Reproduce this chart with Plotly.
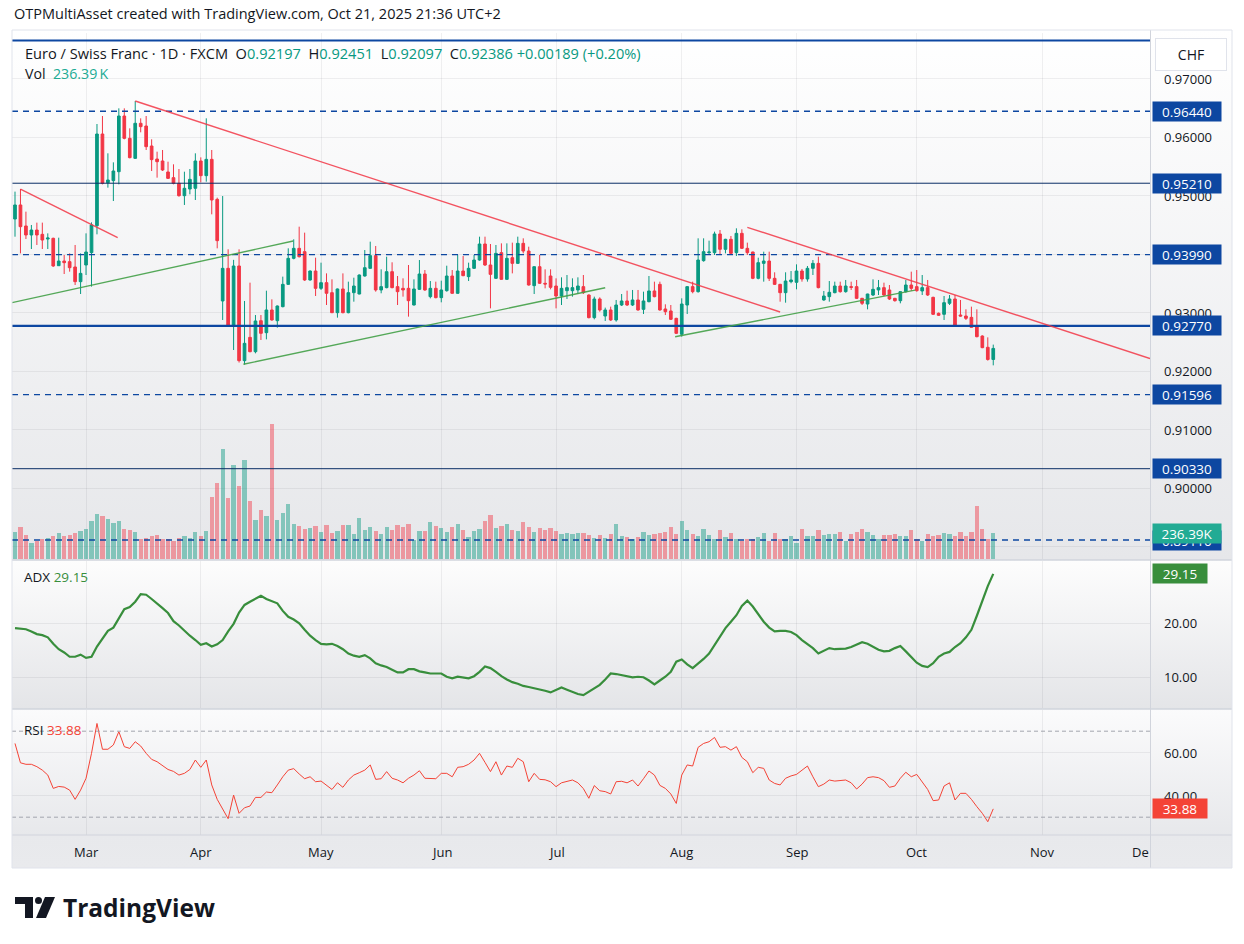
import base64
import pandas as pd
import plotly.graph_objects as go

# ------------------------------------------------------------------ data
dates = pd.bdate_range("2025-02-12", "2025-10-21")

opens = [0.94598, 0.94838, 0.94479, 0.94325, 0.94410, 0.94336, 0.94256, 0.94268, 0.93800, 0.93880,
         0.93869, 0.93778, 0.93527, 0.93812, 0.94023, 0.94484, 0.96051, 0.95219, 0.95254, 0.95407,
         0.96359, 0.95977, 0.95635, 0.96234, 0.96188, 0.95846, 0.95624, 0.95590, 0.95402, 0.95305,
         0.95208, 0.94997, 0.95111, 0.95123, 0.95590, 0.95339, 0.95618, 0.94934, 0.93197, 0.93755,
         0.92786, 0.93795, 0.92177, 0.92575, 0.92330, 0.92860, 0.92655, 0.93043, 0.92860, 0.93100,
         0.93481, 0.93926, 0.94097, 0.94040, 0.93556, 0.93709, 0.93413, 0.93510, 0.93339, 0.92997,
         0.93402, 0.92997, 0.93339, 0.93316, 0.93624, 0.93755, 0.93972, 0.93385, 0.93425, 0.93698,
         0.93442, 0.93413, 0.93413, 0.93128, 0.93396, 0.93658, 0.93271, 0.93413, 0.93254, 0.93373,
         0.93624, 0.93328, 0.93709, 0.93613, 0.93755, 0.93897, 0.94171, 0.93812, 0.93584, 0.94023,
         0.93567, 0.93937, 0.93840, 0.94182, 0.94051, 0.93459, 0.93783, 0.93499, 0.93624, 0.93453,
         0.93282, 0.93373, 0.93373, 0.93385, 0.93442, 0.93299, 0.92912, 0.93231, 0.92940, 0.93043,
         0.92872, 0.93128, 0.93197, 0.93128, 0.93214, 0.93054, 0.93185, 0.93368, 0.93481, 0.93060,
         0.93026, 0.92900, 0.92627, 0.93128, 0.93442, 0.93356, 0.93886, 0.94023, 0.94023, 0.94342,
         0.94080, 0.94251, 0.94023, 0.94353, 0.94097, 0.94034, 0.93584, 0.93840, 0.93880, 0.93584,
         0.93481, 0.93339, 0.93527, 0.93516, 0.93709, 0.93573, 0.93755, 0.93840, 0.93214, 0.93271,
         0.93339, 0.93453, 0.93356, 0.93442, 0.93442, 0.93242, 0.93145, 0.93299, 0.93385, 0.93425,
         0.93385, 0.93242, 0.93202, 0.93356, 0.93470, 0.93442, 0.93368, 0.93425, 0.93259, 0.92986,
         0.92969, 0.93157, 0.93231, 0.92957, 0.92940, 0.92917, 0.92758, 0.92598, 0.92405, 0.92197]

highs = [0.95066, 0.95111, 0.94724, 0.94496, 0.94536, 0.94536, 0.94353, 0.94279, 0.94279, 0.93983,
         0.94011, 0.94154, 0.94011, 0.94353, 0.94541, 0.96222, 0.96359, 0.95721, 0.95567, 0.96490,
         0.96490, 0.96148, 0.96615, 0.96319, 0.96359, 0.95960, 0.95749, 0.95778, 0.95578, 0.95533,
         0.95453, 0.95407, 0.95453, 0.95721, 0.95652, 0.96319, 0.95778, 0.94963, 0.94991, 0.94080,
         0.93900, 0.94080, 0.93197, 0.93510, 0.92957, 0.92957, 0.93373, 0.93225, 0.93120, 0.93613,
         0.94097, 0.94251, 0.94467, 0.94365, 0.93720, 0.93937, 0.93852, 0.93669, 0.93567, 0.93410,
         0.93669, 0.93527, 0.93595, 0.93650, 0.94068, 0.94211, 0.94137, 0.93738, 0.93954, 0.93858,
         0.93624, 0.93584, 0.93812, 0.93567, 0.93897, 0.93726, 0.93538, 0.93527, 0.93544, 0.93800,
         0.93726, 0.93983, 0.93966, 0.93852, 0.93983, 0.94296, 0.94296, 0.94171, 0.94154, 0.94182,
         0.94182, 0.94194, 0.94296, 0.94268, 0.94125, 0.93790, 0.93983, 0.93738, 0.93738, 0.93584,
         0.93601, 0.93641, 0.93584, 0.93601, 0.93641, 0.93310, 0.93271, 0.93259, 0.93083, 0.93100,
         0.93214, 0.93316, 0.93373, 0.93385, 0.93385, 0.93356, 0.93624, 0.93527, 0.93527, 0.93140,
         0.93128, 0.92910, 0.93242, 0.93450, 0.93527, 0.94268, 0.94268, 0.94228, 0.94382, 0.94410,
         0.94260, 0.94308, 0.94439, 0.94422, 0.94194, 0.94040, 0.93937, 0.94040, 0.94040, 0.93687,
         0.93490, 0.93687, 0.93709, 0.93823, 0.93744, 0.93795, 0.93897, 0.93954, 0.93368, 0.93538,
         0.93527, 0.93527, 0.93556, 0.93527, 0.93556, 0.93250, 0.93320, 0.93567, 0.93556, 0.93510,
         0.93470, 0.93250, 0.93360, 0.93556, 0.93698, 0.93726, 0.93641, 0.93556, 0.93270, 0.93000,
         0.93282, 0.93299, 0.93299, 0.93214, 0.93054, 0.93100, 0.93054, 0.92610, 0.92575, 0.92451]

lows = [0.94296, 0.94011, 0.94256, 0.94085, 0.94154, 0.94085, 0.94085, 0.93780, 0.93795, 0.93658,
        0.93698, 0.93470, 0.93316, 0.93641, 0.93442, 0.94336, 0.95190, 0.95134, 0.94906, 0.95191,
        0.95960, 0.95635, 0.95624, 0.96080, 0.95778, 0.95419, 0.95305, 0.95419, 0.95282, 0.95191,
        0.94980, 0.94838, 0.95020, 0.94923, 0.95225, 0.95236, 0.94678, 0.94097, 0.92872, 0.92770,
        0.92359, 0.92145, 0.92110, 0.92320, 0.92302, 0.92530, 0.92541, 0.92860, 0.92741, 0.93088,
        0.93470, 0.93909, 0.93940, 0.93540, 0.93544, 0.93282, 0.93385, 0.93128, 0.92990, 0.92912,
        0.92986, 0.92986, 0.93185, 0.93310, 0.93613, 0.93750, 0.93356, 0.93328, 0.93413, 0.93413,
        0.93128, 0.93271, 0.92929, 0.93120, 0.93385, 0.93370, 0.93242, 0.93242, 0.93174, 0.93356,
        0.93320, 0.93320, 0.93620, 0.93538, 0.93744, 0.93886, 0.93795, 0.93071, 0.93573, 0.93560,
        0.93556, 0.93669, 0.93829, 0.94011, 0.93459, 0.93316, 0.93487, 0.93413, 0.93396, 0.93071,
        0.93128, 0.93231, 0.93271, 0.93316, 0.93316, 0.92900, 0.92883, 0.93014, 0.92855, 0.92855,
        0.92843, 0.93111, 0.93111, 0.93111, 0.93030, 0.92974, 0.93174, 0.93260, 0.93031, 0.92957,
        0.92872, 0.92632, 0.92587, 0.92974, 0.93328, 0.93339, 0.93869, 0.93983, 0.93983, 0.93983,
        0.94011, 0.93994, 0.93966, 0.94085, 0.93983, 0.93570, 0.93567, 0.93527, 0.93538, 0.93470,
        0.93185, 0.93168, 0.93499, 0.93396, 0.93527, 0.93527, 0.93641, 0.93413, 0.93200, 0.93185,
        0.93328, 0.93339, 0.93339, 0.93385, 0.93230, 0.93128, 0.93054, 0.93282, 0.93299, 0.93282,
        0.93214, 0.93185, 0.93157, 0.93339, 0.93368, 0.93356, 0.93299, 0.93282, 0.92957, 0.92940,
        0.92872, 0.93128, 0.92780, 0.92930, 0.92872, 0.92741, 0.92575, 0.92390, 0.92177, 0.92097]

closes = [0.94838, 0.94467, 0.94325, 0.94410, 0.94325, 0.94239, 0.94273, 0.93795, 0.93880, 0.93852,
          0.93766, 0.93527, 0.93669, 0.94034, 0.94496, 0.96051, 0.95208, 0.95265, 0.95419, 0.96359,
          0.95977, 0.95647, 0.96234, 0.96177, 0.95835, 0.95613, 0.95578, 0.95436, 0.95293, 0.95208,
          0.94997, 0.95123, 0.95276, 0.95590, 0.95339, 0.95618, 0.94923, 0.94228, 0.93755, 0.92786,
          0.93795, 0.92177, 0.92473, 0.92330, 0.92855, 0.92644, 0.93043, 0.92872, 0.93111, 0.93481,
          0.93926, 0.94097, 0.93954, 0.93556, 0.93709, 0.93413, 0.93510, 0.93328, 0.92997, 0.93402,
          0.92997, 0.93339, 0.93453, 0.93641, 0.93766, 0.93972, 0.93385, 0.93442, 0.93698, 0.93425,
          0.93356, 0.93385, 0.93202, 0.93402, 0.93658, 0.93385, 0.93413, 0.93254, 0.93385, 0.93624,
          0.93328, 0.93709, 0.93630, 0.93755, 0.93897, 0.94171, 0.93812, 0.93652, 0.94011, 0.93567,
          0.93926, 0.93840, 0.94182, 0.94051, 0.93470, 0.93783, 0.93499, 0.93487, 0.93430, 0.93282,
          0.93413, 0.93425, 0.93425, 0.93453, 0.93339, 0.92912, 0.93231, 0.93043, 0.93043, 0.92872,
          0.93128, 0.93197, 0.93128, 0.93214, 0.93043, 0.93197, 0.93368, 0.93271, 0.93043, 0.93014,
          0.92883, 0.92644, 0.93145, 0.93442, 0.93356, 0.93897, 0.94040, 0.94034, 0.94342, 0.94080,
          0.94251, 0.94011, 0.94353, 0.94097, 0.94023, 0.93584, 0.93852, 0.93880, 0.93584, 0.93481,
          0.93339, 0.93538, 0.93556, 0.93709, 0.93573, 0.93755, 0.93840, 0.93425, 0.93282, 0.93345,
          0.93453, 0.93356, 0.93453, 0.93430, 0.93242, 0.93157, 0.93316, 0.93396, 0.93425, 0.93299,
          0.93231, 0.93202, 0.93356, 0.93470, 0.93413, 0.93373, 0.93425, 0.93299, 0.92969, 0.92952,
          0.93168, 0.93231, 0.92786, 0.92940, 0.92900, 0.92746, 0.92587, 0.92399, 0.92197, 0.92386]

volume_k = [244, 291, 216, 150, 160, 182, 188, 207, 235, 207,
            216, 235, 254, 272, 347, 413, 394, 366, 329, 347,
            272, 263, 244, 178, 188, 207, 216, 178, 178, 160,
            188, 207, 188, 244, 207, 254, 563, 695, 1005, 554,
            854, 667, 901, 526, 357, 451, 394, 1230, 357, 423,
            498, 319, 300, 272, 282, 300, 244, 310, 235, 254,
            310, 310, 225, 376, 263, 291, 254, 225, 291, 263,
            310, 291, 319, 169, 254, 254, 338, 300, 282, 244,
            291, 319, 263, 197, 254, 272, 347, 404, 282, 300,
            319, 263, 254, 338, 291, 244, 282, 263, 282, 254,
            225, 235, 225, 235, 235, 216, 188, 216, 190, 225,
            315, 206, 197, 181, 197, 243, 221, 228, 237, 243,
            290, 228, 346, 262, 231, 206, 275, 218, 181, 262,
            200, 234, 181, 165, 181, 187, 197, 234, 165, 234,
            187, 187, 206, 144, 271, 209, 209, 262, 215, 225,
            225, 243, 168, 231, 243, 271, 243, 215, 181, 218,
            221, 228, 206, 206, 262, 181, 162, 231, 212, 221,
            234, 228, 209, 243, 209, 243, 487, 271, 187, 236.39]

adx = [19.1, 19.0, 18.9, 18.5, 18.0, 17.8, 17.4, 16.2, 15.2, 14.6,
       13.8, 13.8, 14.2, 13.6, 13.8, 15.7, 17.1, 18.6, 19.2, 20.9,
       22.6, 23.0, 24.0, 25.4, 25.3, 24.5, 23.7, 22.8, 21.9, 20.4,
       19.6, 18.6, 17.7, 16.9, 16.0, 16.3, 15.7, 16.1, 16.9, 18.5,
       19.9, 22.0, 23.4, 24.0, 24.6, 25.1, 24.5, 24.1, 23.7, 22.3,
       21.2, 20.7, 20.0, 18.8, 17.7, 16.9, 16.2, 16.1, 16.2, 15.8,
       15.2, 14.4, 14.0, 13.8, 14.1, 13.5, 12.6, 12.2, 11.9, 11.4,
       10.9, 10.9, 11.5, 11.5, 11.1, 10.9, 10.7, 10.7, 10.7, 10.1,
       9.8, 10.1, 10.0, 9.8, 10.2, 11.0, 12.0, 11.7, 11.0, 10.2,
       9.6, 9.1, 8.8, 8.4, 8.2, 8.0, 7.8, 7.5, 7.2, 7.7,
       8.1, 7.7, 7.3, 6.9, 6.7, 7.3, 8.0, 8.6, 9.6, 10.7,
       10.6, 10.4, 10.1, 10.0, 10.1, 10.0, 9.4, 8.7, 9.4, 10.1,
       11.0, 12.9, 13.3, 12.4, 11.7, 12.5, 13.4, 14.4, 16.0, 17.4,
       19.1, 20.3, 21.5, 23.2, 24.2, 23.1, 21.7, 20.3, 19.2, 18.5,
       18.6, 18.6, 18.4, 17.8, 16.9, 16.2, 15.4, 14.4, 14.9, 15.4,
       15.2, 15.2, 15.3, 15.6, 16.0, 16.5, 16.2, 15.6, 15.1, 14.8,
       14.9, 15.4, 15.8, 14.8, 13.7, 12.7, 12.1, 11.9, 12.6, 13.8,
       14.4, 14.7, 15.6, 16.3, 17.4, 18.8, 21.4, 24.3, 26.9, 29.15]

rsi = [64.3, 55.3, 54.6, 54.6, 53.5, 51.9, 49.6, 43.4, 44.3, 44.0,
       42.6, 38.3, 42.6, 48.1, 59.7, 73.6, 61.6, 61.6, 63.6, 69.8,
       62.8, 62.0, 65.1, 63.1, 59.7, 56.9, 55.8, 53.8, 52.2, 51.3,
       49.6, 50.4, 52.2, 56.6, 53.2, 56.6, 45.0, 38.3, 33.6, 29.3,
       40.3, 31.8, 34.4, 35.2, 39.2, 39.2, 41.7, 41.4, 45.0, 48.8,
       51.9, 52.6, 50.1, 47.9, 48.8, 46.5, 46.8, 45.0, 42.9, 46.0,
       43.9, 47.3, 49.6, 50.7, 51.9, 54.3, 47.6, 47.9, 51.2, 48.1,
       47.3, 46.0, 48.1, 49.6, 51.6, 48.1, 48.1, 47.9, 50.4, 50.4,
       48.8, 53.2, 53.5, 54.6, 56.6, 59.7, 55.5, 51.2, 55.8, 49.6,
       53.8, 53.2, 57.4, 55.8, 46.5, 50.4, 47.6, 47.4, 46.5, 44.2,
       46.0, 46.5, 47.3, 46.0, 43.3, 38.8, 44.7, 42.3, 41.9, 40.8,
       46.5, 46.7, 46.0, 47.3, 44.5, 47.9, 51.5, 49.6, 44.8, 43.4,
       40.8, 36.4, 49.6, 54.3, 53.8, 62.5, 64.3, 65.1, 67.1, 62.5,
       62.8, 61.2, 62.8, 57.8, 55.8, 50.7, 53.2, 52.7, 47.3, 45.7,
       45.0, 48.1, 49.2, 49.9, 51.9, 53.8, 48.8, 44.2, 45.4, 47.3,
       46.8, 47.0, 47.3, 46.0, 43.1, 45.4, 48.4, 48.8, 48.4, 47.0,
       43.9, 44.5, 48.1, 50.9, 48.8, 49.9, 46.5, 42.9, 37.7, 38.0,
       44.5, 46.0, 38.0, 41.1, 41.1, 38.3, 34.9, 31.8, 27.9, 33.88]

# horizontal levels: (price, style)
levels = [0.9765, 0.9644, 0.9521, 0.9399, 0.9277, 0.91596, 0.9033, 0.8911]
level_style = ["thick", "dash", "thin", "dash", "thick", "dash", "thin", "dash"]
badge_levels = [0.8911, 0.9644, 0.9521, 0.9399, 0.9277, 0.91596, 0.9033]

# trend lines: (date0, price0, date1, price1)
red_lines = [("2025-02-13 00:00", 0.95111, "2025-03-10 19:00", 0.94279),
             ("2025-03-14 00:00", 0.96615, "2025-08-27 00:00", 0.93009),
             ("2025-08-19 00:00", 0.94456, "2025-11-28 16:20", 0.92214)]
green_lines = [("2025-02-11 10:50", 0.93168, "2025-04-23 21:36", 0.94222),
               ("2025-04-10 19:00", 0.92115, "2025-07-14 00:00", 0.93424),
               ("2025-07-30 19:00", 0.92586, "2025-09-30 17:00", 0.93383)]

price_ticks = [0.97, 0.96, 0.95, 0.94, 0.93, 0.92, 0.91, 0.90, 0.89]
price_tick_labels = [0.97, 0.96, 0.95, 0.93, 0.92, 0.91, 0.90]
adx_ticks = [20, 10]
rsi_ticks = [60, 40]
month_ticks = ["2025-03-03", "2025-04-01", "2025-05-01", "2025-06-02", "2025-07-01",
               "2025-08-01", "2025-09-01", "2025-10-01", "2025-11-03"]
month_labels = ["Mar", "Apr", "May", "Jun", "Jul", "Aug", "Sep", "Oct", "Nov"]

# ------------------------------------------------------------------ style
UP, DOWN = "#089981", "#F23645"
VOL_UP, VOL_DOWN = "rgba(8,153,129,0.45)", "rgba(242,54,69,0.45)"
NAVY = "#0D47A1"
ADX_C = "#388E3C"
RSI_C = "#F44336"
TXT = "#131722"
GRID = "rgba(42,46,57,0.07)"
FONT = "Open Sans, Roboto, sans-serif"

W, H = 1244, 944
PL, PR, PT, PB = 12, 1150, 33, 835


def fx(px):
    return (px - PL) / (PR - PL)


def fy(py):
    return (PB - py) / (PB - PT)


def grad(c1, c2):
    svg = ('<svg xmlns="http://www.w3.org/2000/svg" width="10" height="100" preserveAspectRatio="none">'
           '<defs><linearGradient id="g" x1="0" y1="0" x2="0" y2="1">'
           f'<stop offset="0" stop-color="{c1}"/><stop offset="1" stop-color="{c2}"/>'
           '</linearGradient></defs><rect width="10" height="100" fill="url(#g)"/></svg>')
    return "data:image/svg+xml;base64," + base64.b64encode(svg.encode()).decode()


vol_colors = [VOL_UP if c >= o else VOL_DOWN for o, c in zip(opens, closes)]

fig = go.Figure()
fig.add_trace(go.Candlestick(
    x=dates, open=opens, high=highs, low=lows, close=closes, yaxis="y",
    increasing=dict(line=dict(color=UP, width=1), fillcolor=UP),
    decreasing=dict(line=dict(color=DOWN, width=1), fillcolor=DOWN),
    whiskerwidth=0, hoverinfo="skip", showlegend=False))
fig.add_trace(go.Bar(
    x=dates, y=volume_k, yaxis="y4", marker=dict(color=vol_colors, line=dict(width=0)),
    width=0.78 * 86400000, hoverinfo="skip", showlegend=False))
fig.add_trace(go.Scatter(x=dates, y=adx, yaxis="y2", mode="lines",
                         line=dict(color=ADX_C, width=2.2), hoverinfo="skip", showlegend=False))
fig.add_trace(go.Scatter(x=dates, y=rsi, yaxis="y3", mode="lines",
                         line=dict(color=RSI_C, width=1), hoverinfo="skip", showlegend=False))

shapes = []
for lv, st in zip(levels, level_style):
    if st == "thick":
        ln = dict(color=NAVY, width=2.2)
    elif st == "thin":
        ln = dict(color="#0B2E66", width=1)
    else:
        ln = dict(color=NAVY, width=1.4, dash="6px,5px")
    shapes.append(dict(type="line", xref="paper", yref="y", x0=0, x1=1, y0=lv, y1=lv, line=ln))
for d0, p0, d1, p1 in red_lines:
    shapes.append(dict(type="line", xref="x", yref="y", x0=d0, y0=p0, x1=d1, y1=p1,
                       line=dict(color="rgba(242,54,69,0.85)", width=1.4)))
for d0, p0, d1, p1 in green_lines:
    shapes.append(dict(type="line", xref="x", yref="y", x0=d0, y0=p0, x1=d1, y1=p1,
                       line=dict(color="rgba(67,160,71,0.9)", width=1.4)))
for b in (70, 30):
    shapes.append(dict(type="line", xref="paper", yref="y3", x0=0, x1=1, y0=b, y1=b,
                       line=dict(color="#A3A6AF", width=1, dash="4px,3px")))
# pane separators and frame
for py in (560, 709):
    shapes.append(dict(type="line", xref="paper", yref="paper", x0=fx(12), x1=fx(1232),
                       y0=fy(py), y1=fy(py), line=dict(color="#D1D4DC", width=1.5)))
shapes.append(dict(type="line", xref="paper", yref="paper", x0=fx(1150.5), x1=fx(1150.5),
                   y0=fy(30), y1=fy(868), line=dict(color="#D1D4DC", width=1)))
shapes.append(dict(type="line", xref="paper", yref="paper", x0=fx(12), x1=fx(1232),
                   y0=fy(835), y1=fy(835), line=dict(color="#D1D4DC", width=1)))
shapes.append(dict(type="rect", xref="paper", yref="paper", x0=fx(12), x1=fx(1232),
                   y0=fy(30), y1=fy(868), line=dict(color="#E0E3EB", width=1)))


def path(pts):
    return "M" + " L".join(f"{fx(a):.5f},{fy(b):.5f}" for a, b in pts) + " Z"


# TradingView logo glyph
shapes.append(dict(type="path", xref="paper", yref="paper",
                   path=path([(15, 897), (33, 897), (33, 918), (25, 918), (25, 904), (15, 904)]),
                   fillcolor=TXT, line=dict(width=0)))
shapes.append(dict(type="circle", xref="paper", yref="paper", x0=fx(35), x1=fx(42),
                   y0=fy(897), y1=fy(904), fillcolor=TXT, line=dict(width=0)))
shapes.append(dict(type="path", xref="paper", yref="paper",
                   path=path([(45, 897), (55, 897), (46, 918), (36, 918)]),
                   fillcolor=TXT, line=dict(width=0)))

ann = []


def text(t, px, py, size=13, color=TXT, xanchor="left", **kw):
    ann.append(dict(text=t, x=fx(px), y=fy(py), xref="paper", yref="paper", showarrow=False,
                    xanchor=xanchor, yanchor="middle", font=dict(size=size, color=color, family=FONT), **kw))


text("OTPMultiAsset created with TradingView.com, Oct 21, 2025 21:36 UTC+2", 12, 13, size=14.5)
chg = closes[-1] - closes[-2]
g = lambda s: f'<span style="color:{UP}">{s}</span>'
legend1 = ("Euro / Swiss Franc · 1D · FXCM&nbsp;&nbsp;O" + g(f"{opens[-1]:.5f}") +
           "&nbsp;&nbsp;H" + g(f"{highs[-1]:.5f}") + "&nbsp;&nbsp;L" + g(f"{lows[-1]:.5f}") +
           "&nbsp;&nbsp;C" + g(f"{closes[-1]:.5f}") + "&nbsp;" +
           g(f"+{chg:.5f} (+{chg / closes[-2] * 100:.2f}%)"))
text(legend1, 23, 53, size=14.6)
text('Vol&nbsp;&nbsp;<span style="color:#22AB94">' + f"{volume_k[-1]:.2f}" + "&#8201;K</span>", 23, 74, size=14.2)
text('ADX <span style="color:' + ADX_C + '">' + f"{adx[-1]:.2f}</span>", 22, 577, size=13.5)
text('RSI <span style="color:' + RSI_C + '">' + f"{rsi[-1]:.2f}</span>", 22, 730, size=13.5)
text("<b>TradingView</b>", 61, 907, size=24.5, color=TXT)

# axis tick labels
for p in price_tick_labels:
    ann.append(dict(text=f"{p:.5f}", x=fx(1162), y=p, xref="paper", yref="y", showarrow=False,
                    xanchor="left", yanchor="middle", font=dict(size=13, color=TXT, family=FONT)))
for v in adx_ticks:
    ann.append(dict(text=f"{v:.2f}", x=fx(1162), y=v, xref="paper", yref="y2", showarrow=False,
                    xanchor="left", yanchor="middle", font=dict(size=13, color=TXT, family=FONT)))
for v in rsi_ticks:
    ann.append(dict(text=f"{v:.2f}", x=fx(1162), y=v, xref="paper", yref="y3", showarrow=False,
                    xanchor="left", yanchor="middle", font=dict(size=13, color=TXT, family=FONT)))
for d, lab in zip(month_ticks, month_labels):
    ann.append(dict(text=lab, x=d, y=fy(852), xref="x", yref="paper", showarrow=False,
                    xanchor="center", yanchor="middle", font=dict(size=13, color=TXT, family=FONT)))
text("De", 1151, 852, size=13, xanchor="right")


def badge(t, y, yref, bg, w=68):
    ann.append(dict(text=t, x=fx(1152), y=y, xref="paper", yref=yref, showarrow=False,
                    xanchor="left", yanchor="middle", width=w, height=19, align="center",
                    bgcolor=bg, borderpad=0, font=dict(size=13.5, color="white", family=FONT)))


for lv in badge_levels:
    badge(f"{lv:.5f}", lv, "y", NAVY)
badge(f"{volume_k[-1]:.2f}K", volume_k[-1], "y4", "#22AB94")
badge(f"{adx[-1]:.2f}", adx[-1], "y2", ADX_C, w=54)
badge(f"{rsi[-1]:.2f}", rsi[-1], "y3", RSI_C, w=54)
ann.append(dict(text="CHF", x=fx(1191), y=fy(54.5), xref="paper", yref="paper", showarrow=False,
                xanchor="center", yanchor="middle", width=68, height=29, bgcolor="white",
                bordercolor="#E0E3EB", borderwidth=1, font=dict(size=14, color=TXT, family=FONT)))

images = [
    dict(source=grad("#FFFFFF", "#E6E7EA"), xref="paper", yref="paper", x=fx(12), y=fy(30),
         sizex=fx(1232) - fx(12), sizey=fy(30) - fy(560), sizing="stretch", layer="below",
         xanchor="left", yanchor="top"),
    dict(source=grad("#FDFDFD", "#E4E5E8"), xref="paper", yref="paper", x=fx(12), y=fy(560),
         sizex=fx(1232) - fx(12), sizey=fy(560) - fy(709), sizing="stretch", layer="below",
         xanchor="left", yanchor="top"),
    dict(source=grad("#FBFBFC", "#E7E8EB"), xref="paper", yref="paper", x=fx(12), y=fy(709),
         sizex=fx(1232) - fx(12), sizey=fy(709) - fy(835), sizing="stretch", layer="below",
         xanchor="left", yanchor="top"),
    dict(source=grad("#E8E9EC", "#E9EAED"), xref="paper", yref="paper", x=fx(12), y=fy(835),
         sizex=fx(1232) - fx(12), sizey=fy(835) - fy(868), sizing="stretch", layer="below",
         xanchor="left", yanchor="top"),
]

yax_common = dict(showticklabels=False, zeroline=False, showline=False, ticks="",
                  gridcolor=GRID, gridwidth=1, tickmode="array", fixedrange=True)
fig.update_layout(
    width=W, height=H, margin=dict(l=PL, r=W - PR, t=PT, b=H - PB),
    paper_bgcolor="white", plot_bgcolor="rgba(0,0,0,0)",
    showlegend=False, bargap=0, hovermode=False,
    font=dict(family=FONT, color=TXT),
    xaxis=dict(domain=[0, 1], anchor="y3", type="date",
               range=["2025-02-11 10:50", "2025-11-28 16:20"],
               rangebreaks=[dict(bounds=["sat", "mon"])],
               tickmode="array", tickvals=month_ticks, showticklabels=False, ticks="",
               showgrid=True, gridcolor=GRID, showline=False, zeroline=False,
               rangeslider=dict(visible=False), fixedrange=True),
    yaxis=dict(domain=[fy(559), 1], range=[0.887863, 0.977778], tickvals=price_ticks,
               anchor="x", side="right", **yax_common),
    yaxis4=dict(overlaying="y", range=[0, 4800], visible=False, showgrid=False, fixedrange=True),
    yaxis2=dict(domain=[fy(708), fy(561)], range=[4.31, 31.54], tickvals=adx_ticks,
                anchor="x", side="right", **yax_common),
    yaxis3=dict(domain=[0, fy(710)], range=[21.72, 79.86], tickvals=rsi_ticks,
                anchor="x", side="right", **yax_common),
    shapes=shapes, annotations=ann, images=images,
)

fig.write_html("out.html")
